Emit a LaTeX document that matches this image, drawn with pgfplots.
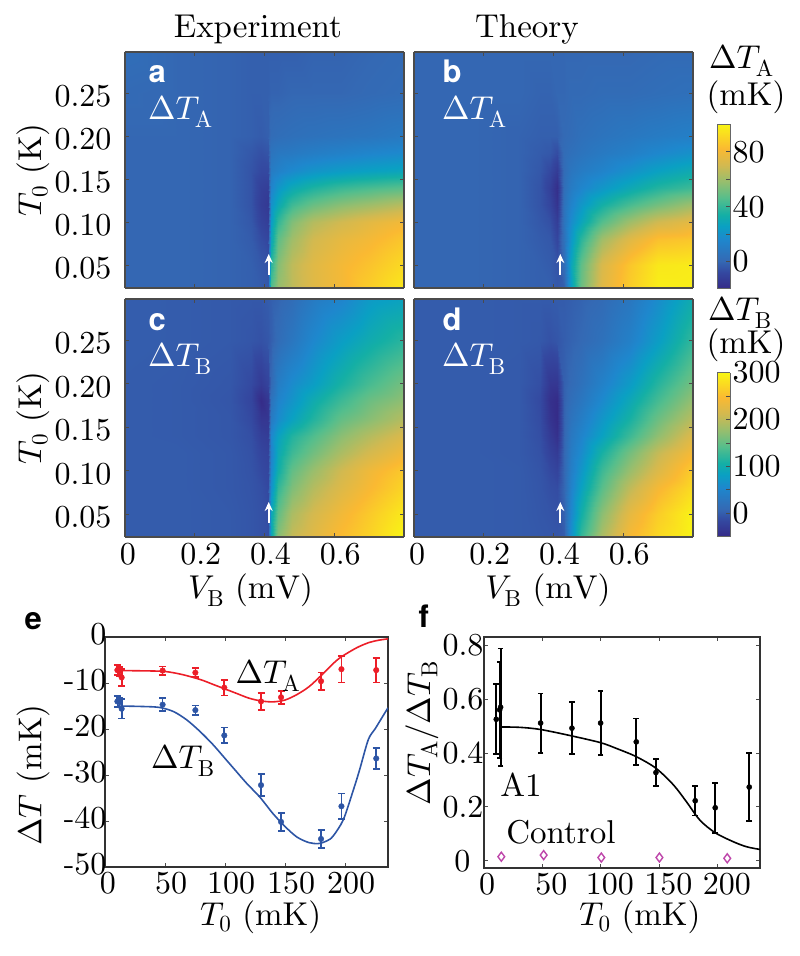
\documentclass[border=0pt]{standalone}
\usepackage[no-math]{fontspec}
\usepackage{pgfplots}
\pgfplotsset{compat=1.18}
\usetikzlibrary{arrows.meta}
% one master size of Computer Modern at all sizes, as in the original figure
\DeclareFontFamily{OT1}{cmr}{\hyphenchar\font45}
\DeclareFontShape{OT1}{cmr}{m}{n}{<->cmr10}{}
\DeclareFontFamily{OML}{cmm}{\skewchar\font127}
\DeclareFontShape{OML}{cmm}{m}{it}{<->cmmi10}{}
\newfontfamily\hvbold{TeX Gyre Heros}[BoldFont={* Bold}]
\newcommand{\cmtext}{\fontencoding{OT1}\fontfamily{cmr}\fontseries{m}\fontshape{n}}
\newcommand{\fs}{\cmtext\fontsize{32}{34}\selectfont}
\newcommand{\fl}{\cmtext\fontsize{33}{36}\selectfont}
\newcommand{\plab}{\fontsize{31}{32}\selectfont\hvbold\bfseries}

\definecolor{fr}{RGB}{75,75,75}
\definecolor{redl}{RGB}{236,30,40}
\definecolor{bluel}{RGB}{45,85,165}
\definecolor{ctrl}{RGB}{190,70,170}

\pgfplotsset{
  colormap={nature}{
    rgb255(0)=(53,42,135)
    rgb255(10)=(52,72,160)
    rgb255(17)=(52,105,180)
    rgb255(30)=(30,135,205)
    rgb255(38)=(10,160,195)
    rgb255(45)=(20,175,165)
    rgb255(55)=(85,190,140)
    rgb255(65)=(150,190,110)
    rgb255(75)=(210,185,80)
    rgb255(85)=(250,185,50)
    rgb255(95)=(250,225,30)
    rgb255(100)=(248,245,20)
  },
  common/.style={
    scale only axis,
    anchor=south west,
    axis line style={fr,line width=1.5pt},
    tick style={fr,line width=1pt},
    major tick length=4pt,
    tick align=inside,
    tick label style={font=\fs},
    label style={font=\fl},
    xtick pos=both, ytick pos=both,
    xticklabel pos=bottom, yticklabel pos=left,
  },
  heat/.style={
    common,
    width=279pt, height=236pt,
    view={0}{90},
    xmin=0, xmax=0.8, ymin=0.0236, ymax=0.298,
    xtick={0,0.2,0.4,0.6},
    ytick={0.05,0.10,0.15,0.20,0.25},
    axis on top,
    xticklabel style={xshift=6pt,yshift=-3pt},
    yticklabel style={yshift=-3pt,xshift=-10pt},
  },
  bar/.style={
    common,
    width=12.7pt, height=164.5pt,
    view={0}{90},
    xmin=0, xmax=1,
    xtick=\empty,
    axis on top,
    axis line style={gray!80!black,line width=1pt},
    ytick pos=right, yticklabel pos=right,
  },
  surfA/.style={surf,shader=interp,mesh/cols=13,point meta=z,point meta min=-20,point meta max=100},
  surfB/.style={surf,shader=interp,mesh/cols=13,point meta=z,point meta min=-50,point meta max=300},
}

\begin{document}
\begin{tikzpicture}[x=1pt,y=1pt]
\path[use as bounding box] (0,0) rectangle (800,956);

% panel a
\begin{axis}[heat, at={(125pt,668pt)},
  xticklabels={}, yticklabels={0.05,0.10,0.15,0.20,0.25},
  ylabel={$T_0$ (K)},
  ylabel style={at={(axis description cs:-0.33,0.5)},anchor=center}]
\addplot3[surfA] coordinates {
(0,0.024,0) (0.15,0.024,0) (0.30,0.024,-1) (0.36,0.024,-2) (0.39,0.024,-3) (0.41,0.024,-4) (0.42,0.024,45) (0.44,0.024,58) (0.48,0.024,66) (0.54,0.024,74) (0.62,0.024,80) (0.70,0.024,88) (0.80,0.024,96)
(0,0.05,0) (0.15,0.05,0) (0.30,0.05,-1) (0.36,0.05,-2) (0.39,0.05,-4) (0.41,0.05,-5) (0.42,0.05,38) (0.44,0.05,55) (0.48,0.05,66) (0.54,0.05,74) (0.62,0.05,80) (0.70,0.05,85) (0.80,0.05,92)
(0,0.08,0) (0.15,0.08,0) (0.30,0.08,-1) (0.36,0.08,-3) (0.39,0.08,-7) (0.41,0.08,-9) (0.42,0.08,28) (0.44,0.08,48) (0.48,0.08,60) (0.54,0.08,70) (0.62,0.08,76) (0.70,0.08,80) (0.80,0.08,86)
(0,0.10,0) (0.15,0.10,0) (0.30,0.10,-1) (0.36,0.10,-4) (0.39,0.10,-10) (0.41,0.10,-12) (0.42,0.10,24) (0.44,0.10,40) (0.48,0.10,54) (0.54,0.10,64) (0.62,0.10,70) (0.70,0.10,75) (0.80,0.10,80)
(0,0.12,0) (0.15,0.12,0) (0.30,0.12,-1) (0.36,0.12,-5) (0.39,0.12,-12) (0.41,0.12,-14) (0.42,0.12,20) (0.44,0.12,30) (0.48,0.12,42) (0.54,0.12,50) (0.62,0.12,56) (0.70,0.12,60) (0.80,0.12,65)
(0,0.14,0) (0.15,0.14,0) (0.30,0.14,-1) (0.36,0.14,-5) (0.39,0.14,-11) (0.41,0.14,-12) (0.42,0.14,14) (0.44,0.14,22) (0.48,0.14,30) (0.54,0.14,36) (0.62,0.14,41) (0.70,0.14,44) (0.80,0.14,47)
(0,0.16,0) (0.15,0.16,0) (0.30,0.16,-1) (0.36,0.16,-5) (0.39,0.16,-8) (0.41,0.16,-8) (0.42,0.16,10) (0.44,0.16,13) (0.48,0.16,17) (0.54,0.16,21) (0.62,0.16,24) (0.70,0.16,26) (0.80,0.16,28)
(0,0.18,0) (0.15,0.18,0) (0.30,0.18,-1) (0.36,0.18,-4) (0.39,0.18,-6) (0.41,0.18,-5) (0.42,0.18,6) (0.44,0.18,8) (0.48,0.18,9) (0.54,0.18,11) (0.62,0.18,13) (0.70,0.18,15) (0.80,0.18,17)
(0,0.20,0) (0.15,0.20,0) (0.30,0.20,-1) (0.36,0.20,-2) (0.39,0.20,-3) (0.41,0.20,-2) (0.42,0.20,2) (0.44,0.20,3) (0.48,0.20,4) (0.54,0.20,5) (0.62,0.20,6) (0.70,0.20,7) (0.80,0.20,9)
(0,0.25,1) (0.15,0.25,0) (0.30,0.25,-1) (0.36,0.25,-2) (0.39,0.25,-2) (0.41,0.25,-2) (0.42,0.25,-1) (0.44,0.25,-1) (0.48,0.25,0) (0.54,0.25,0) (0.62,0.25,0) (0.70,0.25,1) (0.80,0.25,2)
(0,0.30,3) (0.15,0.30,0) (0.30,0.30,-1) (0.36,0.30,-2) (0.39,0.30,-2) (0.41,0.30,-2) (0.42,0.30,-2) (0.44,0.30,-2) (0.48,0.30,-2) (0.54,0.30,-1) (0.62,0.30,-1) (0.70,0.30,0) (0.80,0.30,1)
};
\end{axis}

% panel b
\begin{axis}[heat, at={(414pt,668pt)}, xticklabels={}, yticklabels={}]
\addplot3[surfA] coordinates {
(0,0.024,0) (0.15,0.024,0) (0.30,0.024,-1) (0.36,0.024,-2) (0.39,0.024,-2) (0.41,0.024,-4) (0.43,0.024,-2) (0.45,0.024,25) (0.48,0.024,50) (0.54,0.024,74) (0.62,0.024,88) (0.70,0.024,98) (0.80,0.024,98)
(0,0.05,0) (0.15,0.05,0) (0.30,0.05,-1) (0.36,0.05,-2) (0.39,0.05,-3) (0.41,0.05,-5) (0.43,0.05,3) (0.45,0.05,28) (0.48,0.05,48) (0.54,0.05,72) (0.62,0.05,86) (0.70,0.05,96) (0.80,0.05,97)
(0,0.08,0) (0.15,0.08,0) (0.30,0.08,-1) (0.36,0.08,-3) (0.39,0.08,-4) (0.41,0.08,-9) (0.43,0.08,5) (0.45,0.08,22) (0.48,0.08,38) (0.54,0.08,60) (0.62,0.08,74) (0.70,0.08,84) (0.80,0.08,86)
(0,0.10,0) (0.15,0.10,0) (0.30,0.10,-1) (0.36,0.10,-4) (0.39,0.10,-6) (0.41,0.10,-12) (0.43,0.10,6) (0.45,0.10,18) (0.48,0.10,28) (0.54,0.10,46) (0.62,0.10,60) (0.70,0.10,70) (0.80,0.10,76)
(0,0.12,0) (0.15,0.12,0) (0.30,0.12,-1) (0.36,0.12,-5) (0.39,0.12,-9) (0.41,0.12,-16) (0.43,0.12,5) (0.45,0.12,14) (0.48,0.12,22) (0.54,0.12,34) (0.62,0.12,44) (0.70,0.12,52) (0.80,0.12,60)
(0,0.14,0) (0.15,0.14,0) (0.30,0.14,-1) (0.36,0.14,-5) (0.39,0.14,-11) (0.41,0.14,-18) (0.43,0.14,3) (0.45,0.14,10) (0.48,0.14,15) (0.54,0.14,22) (0.62,0.14,30) (0.70,0.14,37) (0.80,0.14,42)
(0,0.16,0) (0.15,0.16,0) (0.30,0.16,-1) (0.36,0.16,-4) (0.39,0.16,-8) (0.41,0.16,-13) (0.43,0.16,2) (0.45,0.16,7) (0.48,0.16,10) (0.54,0.16,14) (0.62,0.16,20) (0.70,0.16,26) (0.80,0.16,31)
(0,0.18,0) (0.15,0.18,0) (0.30,0.18,-1) (0.36,0.18,-3) (0.39,0.18,-4) (0.41,0.18,-7) (0.43,0.18,2) (0.45,0.18,4) (0.48,0.18,6) (0.54,0.18,9) (0.62,0.18,12) (0.70,0.18,16) (0.80,0.18,20)
(0,0.20,0) (0.15,0.20,0) (0.30,0.20,-1) (0.36,0.20,-2) (0.39,0.20,-2) (0.41,0.20,-2) (0.43,0.20,1) (0.45,0.20,2) (0.48,0.20,4) (0.54,0.20,6) (0.62,0.20,8) (0.70,0.20,10) (0.80,0.20,12)
(0,0.25,0) (0.15,0.25,0) (0.30,0.25,0) (0.36,0.25,-1) (0.39,0.25,-1) (0.41,0.25,0) (0.43,0.25,0) (0.45,0.25,1) (0.48,0.25,1) (0.54,0.25,2) (0.62,0.25,2) (0.70,0.25,3) (0.80,0.25,4)
(0,0.30,0) (0.15,0.30,0) (0.30,0.30,0) (0.36,0.30,0) (0.39,0.30,0) (0.41,0.30,0) (0.43,0.30,0) (0.45,0.30,0) (0.48,0.30,0) (0.54,0.30,0) (0.62,0.30,0) (0.70,0.30,1) (0.80,0.30,1)
};
\end{axis}

% panel c
\begin{axis}[heat, at={(125pt,419pt)}, height=238pt,
  xticklabels={\hspace*{-6pt}0,0.2,0.4,0.6}, yticklabels={0.05,0.10,0.15,0.20,0.25},
  xlabel={$V_{\mathrm{B}}$ (mV)}, ylabel={$T_0$ (K)},
  xlabel style={at={(axis description cs:0.45,-0.225)},anchor=center},
  ylabel style={at={(axis description cs:-0.33,0.5)},anchor=center}]
\addplot3[surfB] coordinates {
(0,0.024,0) (0.15,0.024,0) (0.30,0.024,-2) (0.36,0.024,-5) (0.39,0.024,-8) (0.41,0.024,-10) (0.42,0.024,90) (0.44,0.024,170) (0.48,0.024,205) (0.54,0.024,225) (0.62,0.024,250) (0.70,0.024,270) (0.80,0.024,300)
(0,0.05,0) (0.15,0.05,0) (0.30,0.05,-2) (0.36,0.05,-5) (0.39,0.05,-8) (0.41,0.05,-12) (0.42,0.05,90) (0.44,0.05,150) (0.48,0.05,190) (0.54,0.05,215) (0.62,0.05,240) (0.70,0.05,262) (0.80,0.05,290)
(0,0.08,0) (0.15,0.08,0) (0.30,0.08,-3) (0.36,0.08,-6) (0.39,0.08,-10) (0.41,0.08,-15) (0.42,0.08,65) (0.44,0.08,125) (0.48,0.08,165) (0.54,0.08,195) (0.62,0.08,222) (0.70,0.08,245) (0.80,0.08,272)
(0,0.10,0) (0.15,0.10,0) (0.30,0.10,-3) (0.36,0.10,-7) (0.39,0.10,-14) (0.41,0.10,-18) (0.42,0.10,55) (0.44,0.10,105) (0.48,0.10,150) (0.54,0.10,180) (0.62,0.10,212) (0.70,0.10,238) (0.80,0.10,262)
(0,0.12,0) (0.15,0.12,0) (0.30,0.12,-3) (0.36,0.12,-8) (0.39,0.12,-18) (0.41,0.12,-22) (0.42,0.12,48) (0.44,0.12,95) (0.48,0.12,130) (0.54,0.12,158) (0.62,0.12,190) (0.70,0.12,215) (0.80,0.12,240)
(0,0.14,0) (0.15,0.14,-1) (0.30,0.14,-4) (0.36,0.14,-10) (0.39,0.14,-25) (0.41,0.14,-28) (0.42,0.14,55) (0.44,0.14,85) (0.48,0.14,115) (0.54,0.14,140) (0.62,0.14,172) (0.70,0.14,195) (0.80,0.14,220)
(0,0.16,0) (0.15,0.16,-1) (0.30,0.16,-4) (0.36,0.16,-14) (0.39,0.16,-35) (0.41,0.16,-35) (0.42,0.16,35) (0.44,0.16,60) (0.48,0.16,85) (0.54,0.16,115) (0.62,0.16,150) (0.70,0.16,170) (0.80,0.16,195)
(0,0.18,0) (0.15,0.18,-1) (0.30,0.18,-5) (0.36,0.18,-18) (0.39,0.18,-48) (0.41,0.18,-35) (0.42,0.18,25) (0.44,0.18,50) (0.48,0.18,70) (0.54,0.18,100) (0.62,0.18,130) (0.70,0.18,155) (0.80,0.18,175)
(0,0.20,0) (0.15,0.20,-1) (0.30,0.20,-4) (0.36,0.20,-14) (0.39,0.20,-30) (0.41,0.20,-20) (0.42,0.20,10) (0.44,0.20,40) (0.48,0.20,60) (0.54,0.20,80) (0.62,0.20,110) (0.70,0.20,135) (0.80,0.20,160)
(0,0.25,1) (0.15,0.25,0) (0.30,0.25,-2) (0.36,0.25,-5) (0.39,0.25,-8) (0.41,0.25,-4) (0.42,0.25,2) (0.44,0.25,15) (0.48,0.25,30) (0.54,0.25,55) (0.62,0.25,80) (0.70,0.25,100) (0.80,0.25,120)
(0,0.30,1) (0.15,0.30,0) (0.30,0.30,-2) (0.36,0.30,-3) (0.39,0.30,-3) (0.41,0.30,0) (0.42,0.30,2) (0.44,0.30,6) (0.48,0.30,15) (0.54,0.30,35) (0.62,0.30,50) (0.70,0.30,75) (0.80,0.30,85)
};
\end{axis}

% panel d
\begin{axis}[heat, at={(414pt,419pt)}, height=238pt,
  xticklabels={\hspace*{-6pt}0,0.2,0.4,0.6}, yticklabels={},
  xlabel={$V_{\mathrm{B}}$ (mV)},
  xlabel style={at={(axis description cs:0.48,-0.225)},anchor=center}]
\addplot3[surfB] coordinates {
(0,0.024,0) (0.15,0.024,0) (0.30,0.024,-1) (0.36,0.024,-3) (0.39,0.024,-4) (0.41,0.024,-5) (0.43,0.024,0) (0.45,0.024,65) (0.48,0.024,125) (0.54,0.024,190) (0.62,0.024,245) (0.70,0.024,275) (0.80,0.024,300)
(0,0.05,0) (0.15,0.05,0) (0.30,0.05,-1) (0.36,0.05,-4) (0.39,0.05,-6) (0.41,0.05,-8) (0.43,0.05,5) (0.45,0.05,55) (0.48,0.05,105) (0.54,0.05,172) (0.62,0.05,230) (0.70,0.05,265) (0.80,0.05,298)
(0,0.08,0) (0.15,0.08,0) (0.30,0.08,-1) (0.36,0.08,-5) (0.39,0.08,-10) (0.41,0.08,-12) (0.43,0.08,8) (0.45,0.08,48) (0.48,0.08,85) (0.54,0.08,145) (0.62,0.08,202) (0.70,0.08,243) (0.80,0.08,278)
(0,0.10,0) (0.15,0.10,0) (0.30,0.10,-1) (0.36,0.10,-6) (0.39,0.10,-14) (0.41,0.10,-20) (0.43,0.10,8) (0.45,0.10,42) (0.48,0.10,72) (0.54,0.10,130) (0.62,0.10,180) (0.70,0.10,222) (0.80,0.10,265)
(0,0.12,0) (0.15,0.12,0) (0.30,0.12,-2) (0.36,0.12,-8) (0.39,0.12,-22) (0.41,0.12,-30) (0.43,0.12,8) (0.45,0.12,38) (0.48,0.12,60) (0.54,0.12,110) (0.62,0.12,160) (0.70,0.12,205) (0.80,0.12,245)
(0,0.14,0) (0.15,0.14,0) (0.30,0.14,-2) (0.36,0.14,-10) (0.39,0.14,-30) (0.41,0.14,-42) (0.43,0.14,6) (0.45,0.14,32) (0.48,0.14,50) (0.54,0.14,85) (0.62,0.14,130) (0.70,0.14,175) (0.80,0.14,222)
(0,0.16,0) (0.15,0.16,0) (0.30,0.16,-2) (0.36,0.16,-12) (0.39,0.16,-38) (0.41,0.16,-48) (0.43,0.16,5) (0.45,0.16,25) (0.48,0.16,40) (0.54,0.16,72) (0.62,0.16,110) (0.70,0.16,155) (0.80,0.16,198)
(0,0.18,0) (0.15,0.18,0) (0.30,0.18,-2) (0.36,0.18,-14) (0.39,0.18,-42) (0.41,0.18,-48) (0.43,0.18,4) (0.45,0.18,18) (0.48,0.18,30) (0.54,0.18,58) (0.62,0.18,95) (0.70,0.18,135) (0.80,0.18,178)
(0,0.20,0) (0.15,0.20,0) (0.30,0.20,-2) (0.36,0.20,-10) (0.39,0.20,-34) (0.41,0.20,-35) (0.43,0.20,3) (0.45,0.20,12) (0.48,0.20,22) (0.54,0.20,46) (0.62,0.20,78) (0.70,0.20,118) (0.80,0.20,160)
(0,0.25,0) (0.15,0.25,0) (0.30,0.25,-1) (0.36,0.25,-3) (0.39,0.25,-8) (0.41,0.25,-5) (0.43,0.25,1) (0.45,0.25,5) (0.48,0.25,10) (0.54,0.25,22) (0.62,0.25,45) (0.70,0.25,80) (0.80,0.25,125)
(0,0.30,0) (0.15,0.30,0) (0.30,0.30,-1) (0.36,0.30,-1) (0.39,0.30,-1) (0.41,0.30,0) (0.43,0.30,0) (0.45,0.30,2) (0.48,0.30,5) (0.54,0.30,12) (0.62,0.30,30) (0.70,0.30,60) (0.80,0.30,100)
};
\end{axis}

% colour bars
\begin{axis}[bar, at={(717.3pt,667pt)}, ymin=-20, ymax=100,
  ytick={0,20,40,60,80}, yticklabels={0,,40,,80},
  yticklabel style={xshift=-1pt}]
\addplot3[surf,shader=interp,mesh/cols=2,point meta=z,point meta min=-20,point meta max=100] coordinates {
(0,-20,-20) (1,-20,-20)
(0,100,100) (1,100,100)
};
\end{axis}
\begin{axis}[bar, at={(717.3pt,419pt)}, ymin=-50, ymax=300,
  ytick={0,50,100,150,200,250,300}, yticklabels={0,,100,,200,,300},
  yticklabel style={xshift=-1pt}]
\addplot3[surf,shader=interp,mesh/cols=2,point meta=z,point meta min=-50,point meta max=300] coordinates {
(0,-50,-50) (1,-50,-50)
(0,300,300) (1,300,300)
};
\end{axis}

% panel e
\begin{axis}[common, at={(105pt,89pt)}, width=283pt, height=230pt,
  axis line style={black!80,line width=1.8pt},
  xmin=0, xmax=235.8, ymin=-50, ymax=0,
  xtick={0,50,100,150,200}, xticklabels={\hspace*{-6pt}0,50,100,150,200},
  ytick={-50,-40,-30,-20,-10,0}, yticklabels={-50,-40,-30,-20,-10,0},
  xticklabel style={xshift=6pt,yshift=-2pt},
  yticklabel style={yshift=3pt,xshift=5pt},
  xlabel={$T_0$ (mK)}, ylabel={$\Delta T$ (mK)},
  xlabel style={at={(axis description cs:0.55,-0.217)},anchor=center},
  ylabel style={at={(axis description cs:-0.254,0.4)},anchor=center}]
\addplot[redl,line width=1.6pt,smooth] coordinates {
(10,-7.3) (30,-7.35) (50,-7.5) (65,-8.2) (80,-9.3) (90,-10.3) (100,-11.3) (110,-12.3) (120,-13.3) (130,-13.9) (140,-14.1) (150,-13.7) (160,-12.5) (170,-10.8) (180,-8.4) (190,-5.8) (197,-4.3) (210,-2.3) (220,-1.2) (228,-0.7) (235.8,-0.4)
};
\addplot[bluel,line width=1.6pt,smooth] coordinates {
(10,-15) (30,-15.1) (45,-15.3) (57,-16.2) (68,-18) (79,-20.5) (90,-23.4) (100,-26.4) (107,-28.5) (118,-31.8) (129,-34.8) (140,-38.4) (150,-41.2) (160,-43.5) (170,-44.7) (178,-44.9) (185,-44.3) (190,-43.3) (198.6,-39.7) (207,-33.2) (212,-29) (219.4,-22.3) (225,-20) (232,-17) (235.8,-15.4)
};
\addplot[only marks,redl,mark=*,mark size=2.8pt,
  error bars/.cd,y dir=both,y explicit,
  error bar style={line width=1.7pt},
  error mark options={line width=1.7pt,mark size=3.5pt,rotate=90}] coordinates {
(10.3,-7.2) +- (0,1.1)
(12,-7.5) +- (0,1)
(13.9,-8.8) +- (0,1.8)
(48,-7.3) +- (0,0.9)
(75.3,-7.75) +- (0,1)
(99.4,-11) +- (0,1.7)
(130,-14) +- (0,1.8)
(146.7,-13.1) +- (0,1.4)
(180,-9.6) +- (0,1.9)
(197,-7) +- (0,2.9)
(226,-7.2) +- (0,2.7)
};
\addplot[only marks,bluel,mark=*,mark size=2.8pt,
  error bars/.cd,y dir=both,y explicit,
  error bar style={line width=1.7pt},
  error mark options={line width=1.7pt,mark size=3.5pt,rotate=90}] coordinates {
(10.3,-14) +- (0,1.2)
(12,-14.2) +- (0,0.9)
(13.9,-15.6) +- (0,2.1)
(48,-14.7) +- (0,1.4)
(75.3,-15.9) +- (0,1)
(99.4,-21.4) +- (0,1.7)
(130,-32.2) +- (0,2.4)
(146.7,-40.2) +- (0,1.9)
(180,-43.9) +- (0,1.9)
(197,-36.8) +- (0,2.8)
(226,-26.4) +- (0,2.3)
};
\end{axis}

% panel f
\begin{axis}[common, at={(484pt,88pt)}, width=276pt, height=231pt,
  axis line style={black!80,line width=1.8pt},
  xmin=0, xmax=236, ymin=-0.027, ymax=0.832,
  xtick={0,50,100,150,200}, xticklabels={\hspace*{-12pt}0,50,100,150,200},
  ytick={0,0.2,0.4,0.6,0.8}, yticklabels={0\hspace*{13pt},0.2,0.4,0.6,0.8},
  xticklabel style={xshift=9pt,yshift=-2pt},
  yticklabel style={xshift=3pt},
  xlabel={$T_0$ (mK)}, ylabel={$\Delta T_{\mathrm{A}}/\Delta T_{\mathrm{B}}$},
  xlabel style={at={(axis description cs:0.565,-0.212)},anchor=center},
  ylabel style={at={(axis description cs:-0.225,0.584)},anchor=center}]
\addplot[black,line width=1.6pt,smooth] coordinates {
(14,0.4975) (30.8,0.496) (48.4,0.488) (75.2,0.464) (99.7,0.439) (113,0.418) (130.2,0.387) (147,0.344) (162,0.282) (173,0.22) (184.6,0.151) (197.7,0.104) (213,0.071) (224.5,0.052) (236,0.042)
};
\addplot[only marks,black,mark=*,mark size=2.6pt,
  error bars/.cd,y dir=both,y explicit,
  error bar style={line width=1.8pt},
  error mark options={line width=1.8pt,mark size=2.8pt,rotate=90}] coordinates {
(10.5,0.526) +- (0,0.13)
(13.4,0.561) +- (0,0.179)
(14.2,0.571) +- (0,0.218)
(48.4,0.512) +- (0,0.11)
(75.2,0.493) +- (0,0.097)
(99.7,0.512) +- (0,0.12)
(130.2,0.442) +- (0,0.087)
(147,0.328) +- (0,0.05)
(180.6,0.223) +- (0,0.055)
(197.7,0.197) +- (0,0.093)
(226.8,0.274) +- (0,0.127)
};
\addplot[only marks,ctrl,mark=diamond,mark size=4.5pt,mark options={line width=1.4pt}] coordinates {
(14.8,0.015) (51,0.021) (100.3,0.012) (150,0.012) (208,0.009)
};
\end{axis}

% titles and annotations
\node[font=\fl] at (258,927) {Experiment};
\node[font=\fl] at (527,927) {Theory};
\node[font=\plab,white,anchor=base west] at (145,873) {a};
\node[font=\plab,white,anchor=base west] at (439,873) {b};
\node[font=\plab,white,anchor=base west] at (145,625) {c};
\node[font=\plab,white,anchor=base west] at (439,625) {d};
\node[font=\plab,anchor=base west] at (21,326) {e};
\node[font=\plab,anchor=base west] at (415,328) {f};
\node[font=\fl,white,anchor=base west,inner sep=0pt] at (148,836) {$\Delta T_{\mathrm{A}}$};
\node[font=\fl,white,anchor=base west,inner sep=0pt] at (442,836) {$\Delta T_{\mathrm{A}}$};
\node[font=\fl,white,anchor=base west,inner sep=0pt] at (148,589) {$\Delta T_{\mathrm{B}}$};
\node[font=\fl,white,anchor=base west,inner sep=0pt] at (442,589) {$\Delta T_{\mathrm{B}}$};
\node[font=\fl,anchor=base west,inner sep=0pt] at (709,887) {$\Delta T_{\mathrm{A}}$};
\node[font=\fl,anchor=center,inner sep=0pt] at (746,859) {(mK)};
\node[font=\fl,anchor=base west,inner sep=0pt] at (708,635) {$\Delta T_{\mathrm{B}}$};
\node[font=\fl,anchor=center,inner sep=0pt] at (746,611) {(mK)};
\foreach \ax/\ay in {268.7/681, 560.3/681, 268.7/433, 560.3/433}
  \draw[white,line width=1.8pt,-{Stealth[length=9pt,width=8pt]}] (\ax,\ay) -- (\ax,\ay+21);
\node[font=\fl,anchor=base,inner sep=0pt] at (268,272) {$\Delta T_{\mathrm{A}}$};
\node[font=\fl,anchor=base,inner sep=0pt] at (183,187) {$\Delta T_{\mathrm{B}}$};
\node[font=\fl,anchor=center,inner sep=0pt] at (521,171) {A1};
\node[font=\fl,anchor=center,inner sep=0pt] at (561,124) {Control};
\end{tikzpicture}
\end{document}
